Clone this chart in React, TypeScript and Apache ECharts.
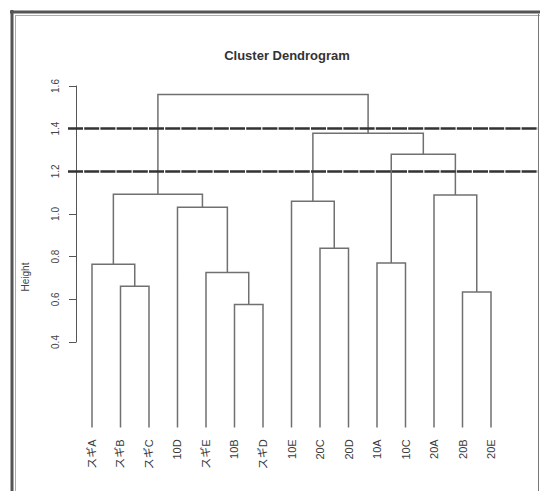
import React, { useEffect, useRef } from "react";
import * as echarts from "echarts";

// Leaf labels in dendrogram order
const leafLabels = [
  "スギA", "スギB", "スギC", "10D", "スギE", "10B", "スギD",
  "10E", "20C", "20D", "10A", "10C", "20A", "20B", "20E",
];
// Merge table (R hclust style): negative = leaf (1-based), positive = earlier merge (1-based)
const mergeLeft = [-2, -6, -14, -1, -11, -5, -9, -4, -8, -13, 4, 5, 9, 11];
const mergeRight = [-3, -7, -15, 1, -12, 2, -10, 6, 7, 3, 8, 10, 12, 13];
const mergeHeight = [0.662, 0.576, 0.634, 0.765, 0.77, 0.726, 0.84, 1.032, 1.06, 1.089, 1.093, 1.28, 1.379, 1.56];
// Cut heights (dashed lines)
const cutHeights = [1.4, 1.2];
// Y-axis ticks
const yTickMin = 0.4;
const yTickMax = 1.6;
const yTickStep = 0.2;

const FONT = "'Liberation Sans', Arial, 'Noto Sans CJK JP', sans-serif";

function buildSegments() {
  const nodeX: number[] = [];
  const nodeH: number[] = [];
  const pos = (ref: number) => (ref < 0 ? -ref : nodeX[ref - 1]);
  const hgt = (ref: number) => (ref < 0 ? 0 : nodeH[ref - 1]);
  const segs: number[][] = [];
  for (let i = 0; i < mergeHeight.length; i++) {
    const xl = pos(mergeLeft[i]);
    const xr = pos(mergeRight[i]);
    const hl = hgt(mergeLeft[i]);
    const hr = hgt(mergeRight[i]);
    const h = mergeHeight[i];
    nodeX.push((xl + xr) / 2);
    nodeH.push(h);
    segs.push([xl, hl, xr, hr, h]);
  }
  return segs;
}

export default function App() {
  const ref = useRef<HTMLDivElement>(null);
  useEffect(() => {
    if (!ref.current) return;
    const chart = echarts.init(ref.current, undefined, { renderer: "svg" });
    const segs = buildSegments();
    const option: any = {
      animation: false,
      backgroundColor: "#ffffff",
      title: {
        text: "Cluster Dendrogram",
        left: 282,
        top: 44,
        textAlign: "center",
        textStyle: { fontFamily: FONT, fontSize: 13, fontWeight: "bold", color: "#333" },
      },
      grid: [
        { left: 68, right: 2, top: 86, bottom: 63.6 },
        { left: 76, width: 10, top: 86, bottom: 149 },
      ],
      xAxis: [
        { type: "value", gridIndex: 0, min: 0.158, max: 16.649, show: false },
        { type: "value", gridIndex: 1, min: 0, max: 1, show: false },
      ],
      yAxis: [
        { type: "value", gridIndex: 0, min: 0, max: 1.6, show: false },
        {
          type: "value",
          gridIndex: 1,
          min: yTickMin,
          max: yTickMax,
          interval: yTickStep,
          splitLine: { show: false },
          axisLine: { show: true, lineStyle: { color: "#555", width: 1 } },
          axisTick: { show: true, length: 7, lineStyle: { color: "#555", width: 1 } },
          axisLabel: {
            rotate: 90,
            margin: 16,
            fontFamily: FONT,
            fontSize: 10,
            color: "#444",
            formatter: (v: number) => v.toFixed(1),
          },
        },
      ],
      series: [
        {
          type: "custom",
          xAxisIndex: 0,
          yAxisIndex: 0,
          clip: false,
          data: segs,
          renderItem: (params: any, api: any) => {
            const xl = api.value(0), hl = api.value(1), xr = api.value(2), hr = api.value(3), h = api.value(4);
            const p1 = api.coord([xl, hl]);
            const p2 = api.coord([xl, h]);
            const p3 = api.coord([xr, h]);
            const p4 = api.coord([xr, hr]);
            return {
              type: "polyline",
              shape: { points: [p1, p2, p3, p4] },
              style: { stroke: "#707070", lineWidth: 1.5, fill: null },
            };
          },
          markLine: {
            silent: true,
            symbol: "none",
            label: { show: false },
            lineStyle: { color: "#333", width: 2.6, type: [15, 1.2] },
            data: cutHeights.map((h) => ({ yAxis: h })),
          },
        },
        {
          type: "custom",
          xAxisIndex: 0,
          yAxisIndex: 0,
          clip: false,
          data: leafLabels.map((l, i) => [i + 1, 0, l]),
          renderItem: (params: any, api: any) => {
            const p = api.coord([api.value(0), api.value(1)]);
            return {
              type: "text",
              x: p[0],
              y: p[1] + 12,
              rotation: Math.PI / 2,
              style: {
                text: leafLabels[params.dataIndex],
                align: "right",
                verticalAlign: "middle",
                fontFamily: FONT,
                fontSize: 11,
                fill: "#3a3a3a",
              },
            };
          },
        },
      ],
      graphic: [
        {
          type: "text",
          x: 25,
          y: 277,
          rotation: Math.PI / 2,
          style: {
            text: "Height",
            align: "center",
            verticalAlign: "middle",
            fontFamily: FONT,
            fontSize: 10,
            fill: "#444",
          },
        },
        { type: "line", shape: { x1: 10, y1: 12, x2: 540, y2: 12 }, style: { stroke: "#555", lineWidth: 3 } },
        { type: "line", shape: { x1: 15, y1: 15.5, x2: 540, y2: 15.5 }, style: { stroke: "#aaa", lineWidth: 1 } },
        { type: "line", shape: { x1: 12, y1: 10, x2: 12, y2: 491 }, style: { stroke: "#555", lineWidth: 3 } },
        { type: "line", shape: { x1: 15.5, y1: 15, x2: 15.5, y2: 491 }, style: { stroke: "#aaa", lineWidth: 1 } },
        { type: "line", shape: { x1: 538.5, y1: 14, x2: 538.5, y2: 491 }, style: { stroke: "#777", lineWidth: 1 } },
      ],
    };
    chart.setOption(option);
    return () => chart.dispose();
  }, []);
  return (
    <div
      ref={ref}
      style={{ position: "fixed", left: 0, top: 0, width: 540, height: 491, background: "#fff" }}
    />
  );
}
